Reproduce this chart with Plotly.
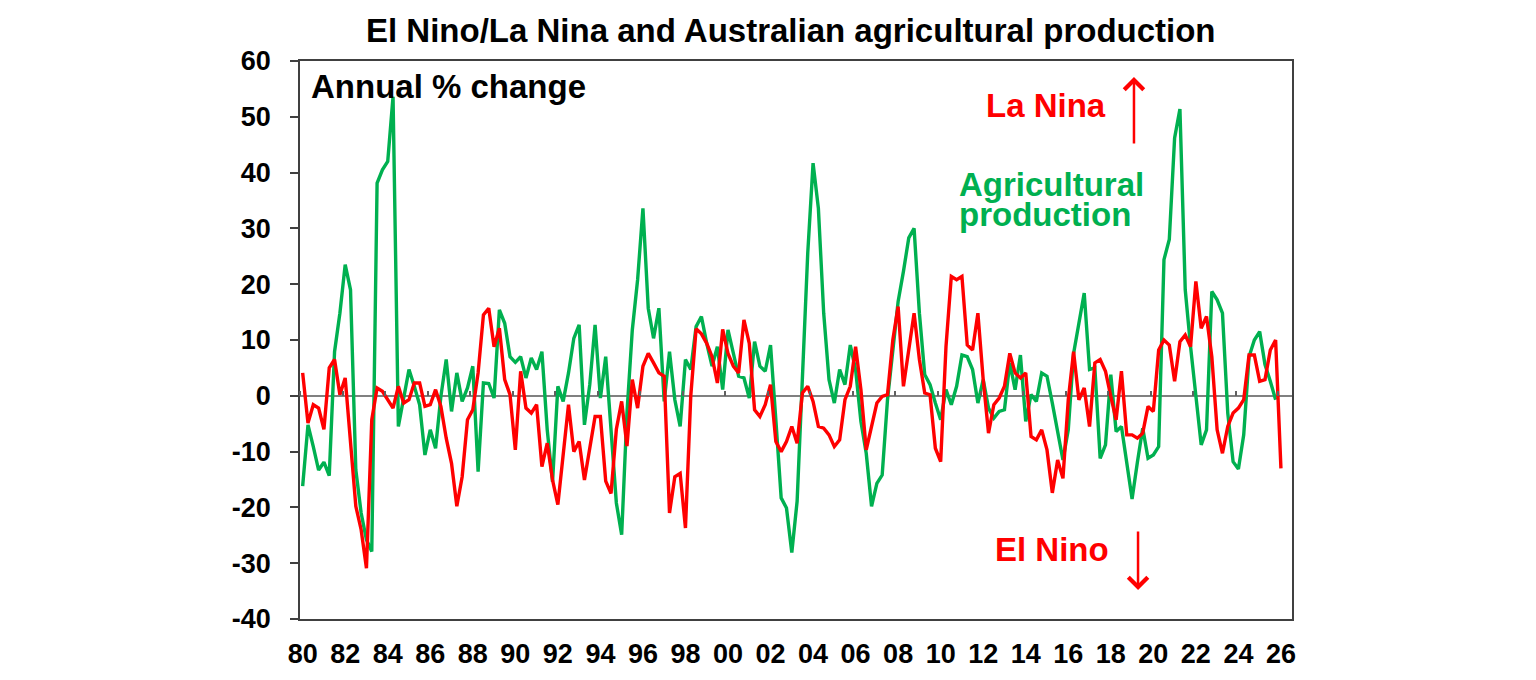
import plotly.graph_objects as go

# Quarterly data, first observation 1980 Q1
start_year = 1980
quarters_per_year = 4

# El Nino / La Nina indicator (red) - annual % change scale
enso = [4.1, -4.9, -1.6, -2.2, -6.0, 5.0, 6.5, 0.2, 3.2, -7.9, -19.8, -24.0, -30.9, -4.3, 1.4, 0.8, -0.7, -2.2, 1.7, -1.3, -0.7, 2.3, 2.3, -1.9, -1.6, 1.1, -1.9,
        -7.6, -12.1, -19.8, -14.5, -4.3, -2.5, 4.1, 14.5, 15.7, 8.8, 12.1, 2.9, 0.2, -9.7, 4.4, -2.2, -3.1, -1.6, -12.7, -8.5, -15.1, -19.5, -10.0, -1.6, -10.0, -8.2, -15.1,
        -9.5, -3.7, -3.7, -15.3, -17.5, -6.0, -1.0, -9.0, 2.9, -2.2, 5.3, 7.6, 5.9, 4.1, 3.5, -21.0, -14.5, -13.9, -23.7, 0.0, 12.0, 11.1, 9.4, 7.0, 2.3, 11.9, 7.6,
        5.3, 4.1, 13.6, 9.4, -2.5, -3.7, -1.6, 2.0, -8.2, -10.0, -8.2, -5.5, -8.5, 0.5, 1.7, -1.0, -5.5, -5.8, -7.0, -9.1, -7.9, -0.7, 1.7, 8.8, 1.1, -9.7, -5.5, -1.3,
        -0.1, 0.2, 10.0, 16.0, 1.7, 8.2, 14.8, 6.5, 0.5, 0.2, -9.4, -11.8, 8.8, 21.4, 20.8, 21.4, 9.1, 8.2, 14.8, 2.9, -6.7, -1.6, -0.4, 1.7, 7.6, 4.1, 3.2,
        4.1, -7.3, -7.9, -6.1, -9.7, -17.4, -11.5, -14.8, -0.7, 7.9, -0.7, 1.4, -5.5, 5.9, 6.5, 4.4, -0.1, -4.3, 4.4, -7.0, -7.0, -7.6, -6.7, -1.9, -2.8, 8.2, 10.0,
        9.1, 2.6, 9.7, 10.9, 8.8, 20.5, 12.1, 14.2, 7.0, -6.1, -10.3, -5.5, -3.1, -2.2, -0.7, 7.3, 7.3, 2.6, 2.9, 8.2, 10.0, -13.0]

# Agricultural production, annual % change (green)
agri = [-16.2, -5.2, -9.1, -13.3, -11.9, -14.3, 7.9, 14.8, 23.5, 19.0, -13.3, -21.0, -25.8, -27.9, 38.1, 40.5, 42.0, 53.6, -5.5, -0.7, 4.7, 1.7, -1.6, -10.6, -6.1, -9.4, -0.1,
        6.5, -2.8, 4.1, -1.0, 1.4, 5.3, -13.6, 2.3, 2.2, -0.4, 15.4, 13.0, 7.0, 6.0, 7.0, 3.2, 6.8, 4.7, 7.9, -6.1, -15.4, 1.7, -1.0, 4.1, 10.3, 12.7, -5.2,
        2.0, 12.7, -0.4, 7.0, -6.0, -19.2, -24.9, -3.0, 11.8, 20.8, 33.6, 15.7, 10.3, 15.7, -1.0, 7.9, -0.7, -5.5, 6.5, 4.7, 12.4, 14.2, 9.4, 5.3, 8.8, 1.1, 11.8,
        7.6, 3.5, 3.2, -0.4, 9.7, 5.3, 4.4, 9.1, -4.3, -18.3, -20.1, -28.1, -18.9, 2.9, 25.6, 41.7, 33.6, 14.8, 2.9, -1.3, 4.7, 2.0, 9.1, 4.7, -4.6, -10.3, -19.8, -15.7,
        -14.2, -0.7, 8.8, 16.9, 22.3, 28.3, 30.0, 14.8, 3.8, 2.0, -1.3, -4.3, 1.1, -1.6, 1.7, 7.3, 7.0, 4.7, -1.3, 2.9, -2.2, -4.0, -2.8, -2.5, 5.9, 1.1, 7.3,
        -4.6, 0.2, -1.0, 4.1, 3.5, -1.3, -6.7, -11.5, -6.1, 7.6, 13.0, 18.4, 4.7, 5.0, -11.2, -8.8, 3.8, -6.4, -5.5, -11.9, -18.5, -11.9, -5.8, -11.2, -10.6, -9.1, 24.4,
        28.0, 46.2, 51.4, 19.0, 8.8, 0.5, -8.8, -6.1, 18.7, 17.2, 14.8, -3.1, -11.8, -13.1, -7.0, 7.0, 10.0, 11.5, 5.6, 2.6, -0.7]

tick_years = list(range(1980, 2027, 2))
tick_labels = [f"{y % 100:02d}" for y in tick_years]
y_ticks = list(range(-40, 61, 10))
y_tick_labels = [str(v) for v in y_ticks]

x_enso = [start_year + i / quarters_per_year for i in range(len(enso))]
x_agri = [start_year + i / quarters_per_year for i in range(len(agri))]

FONT = "Liberation Sans, Arial, sans-serif"
RED = "#FF0000"
GREEN = "#00B050"
FRAME = "#404040"

fig = go.Figure()
fig.add_trace(go.Scatter(x=x_agri, y=agri, mode="lines", line=dict(color=GREEN, width=3.4),
                         name="Agricultural production", showlegend=False))
fig.add_trace(go.Scatter(x=x_enso, y=enso, mode="lines", line=dict(color=RED, width=3.4),
                         name="El Nino/La Nina", showlegend=False))
# carrier for the zero-line tick marks axis
fig.add_trace(go.Scatter(x=[None], y=[None], xaxis="x2", showlegend=False, hoverinfo="skip"))

x_range = [1979.875, 2026.52]

fig.update_layout(
    width=1536, height=680, autosize=False,
    margin=dict(l=300, r=244, t=61, b=61),
    paper_bgcolor="white", plot_bgcolor="white",
    font=dict(family=FONT, color="black"),
    showlegend=False,
    xaxis=dict(range=x_range, tickmode="array", tickvals=tick_years, ticktext=tick_labels,
               ticks="", showgrid=False, zeroline=False, showline=True, mirror=True,
               linecolor=FRAME, linewidth=1.5, automargin=False,
               tickfont=dict(family=FONT, size=27, weight="bold", color="black"),
               ticklabelstandoff=10),
    xaxis2=dict(range=x_range, overlaying="x", anchor="free", position=0.4, side="top",
                tickmode="array", tickvals=[y - 0.125 for y in tick_years],
                ticks="outside", ticklen=5, tickwidth=1.5, tickcolor="#606060",
                showticklabels=False, showgrid=False, zeroline=False, showline=False,
                automargin=False),
    yaxis=dict(range=[-40, 60], tickmode="array", tickvals=y_ticks, ticktext=y_tick_labels,
               ticks="outside", ticklen=8, tickwidth=1.5, tickcolor=FRAME,
               showgrid=False, zeroline=True, zerolinecolor="#808080", zerolinewidth=1.5,
               showline=True, mirror=True, linecolor=FRAME, linewidth=1.5, automargin=False,
               tickfont=dict(family=FONT, size=27, weight="bold", color="black"),
               ticklabelstandoff=14),
)

def note(text, x, y, color, anchor="left"):
    fig.add_annotation(text=text, xref="paper", yref="paper", x=x, y=y,
                       xanchor=anchor, yanchor="middle", showarrow=False,
                       font=dict(family=FONT, size=33, weight="bold", color=color))

note("El Nino/La Nina and Australian agricultural production", 0.495, 1.0538, "black", "center")
note("Annual % change", 0.0091, 0.955, "black")
note("La Nina", 0.6895, 0.921, RED)
note("Agricultural", 0.6623, 0.7778, GREEN)
note("production", 0.6623, 0.7258, GREEN)
note("El Nino", 0.6986, 0.1237, RED)

# direction arrows
fig.add_annotation(x=0.8407, y=0.9713, xref="paper", yref="paper", ax=0, ay=68, text="",
                   showarrow=True, arrowhead=4, arrowsize=1.5, arrowwidth=2.5, arrowcolor=RED)
fig.add_annotation(x=0.8448, y=0.052, xref="paper", yref="paper", ax=0, ay=-60, text="",
                   showarrow=True, arrowhead=4, arrowsize=1.5, arrowwidth=2.5, arrowcolor=RED)

fig.write_html("out.html")
